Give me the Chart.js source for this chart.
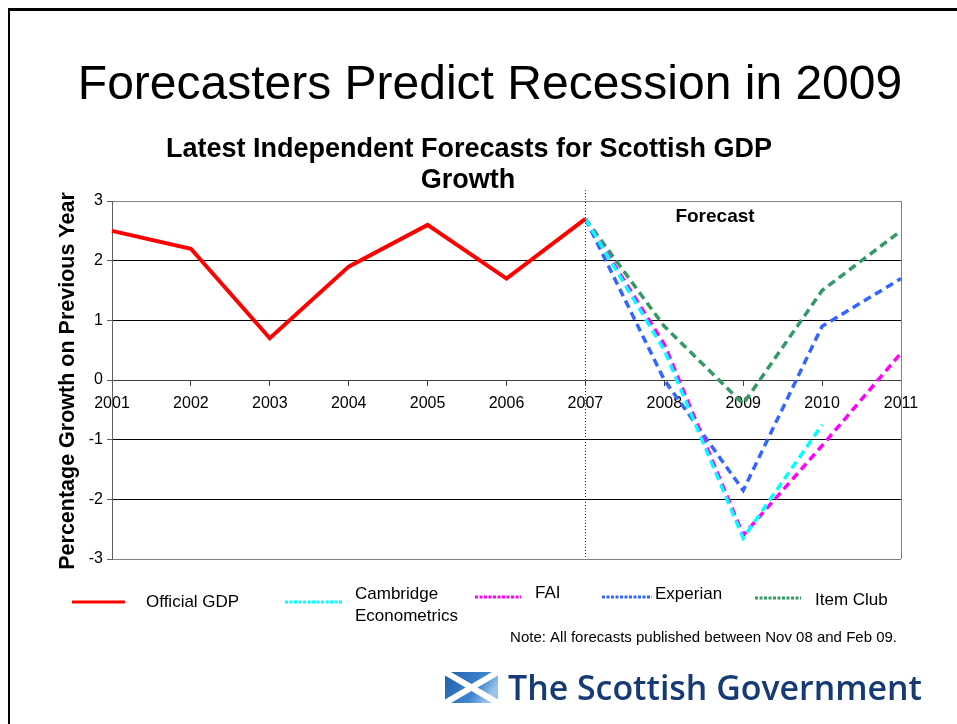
<!DOCTYPE html>
<html>
<head>
<meta charset="utf-8">
<title>Forecasters Predict Recession in 2009</title>
<script src="https://cdn.jsdelivr.net/npm/chart.js@4.4.1/dist/chart.umd.min.js"></script>
<style>
    html, body { margin: 0; padding: 0; background: #fff; }
    #slide { position: relative; width: 957px; height: 724px; overflow: hidden; }
    #frame { position: absolute; left: 8px; top: 8px; width: 980px; height: 740px;
             border-left: 2px solid #000; border-top: 3px solid #000; }
    #gdpChart { position: absolute; left: 0; top: 0; }
    #logo { position: absolute; left: 440px; top: 665px; }
</style>
</head>
<body>
<div id="slide">
    <div id="frame"></div>
    <canvas id="gdpChart" width="957" height="724"></canvas>
    <svg id="logo" width="500" height="50" viewBox="0 0 500 50">
        <defs>
            <linearGradient id="flagBlue" x1="0" y1="0" x2="1" y2="0.4">
                <stop offset="0" stop-color="#1d5dab"/>
                <stop offset="0.7" stop-color="#3f85cf"/>
                <stop offset="1" stop-color="#9cc3ea"/>
            </linearGradient>
            <clipPath id="flagClip"><rect x="5" y="7" width="53" height="31"/></clipPath>
        </defs>
        <rect x="5" y="7" width="53" height="31" fill="url(#flagBlue)"/>
        <g clip-path="url(#flagClip)" stroke="#fff" stroke-width="6">
            <line x1="5" y1="7" x2="58" y2="38"/>
            <line x1="5" y1="38" x2="58" y2="7"/>
        </g>
        <text x="68" y="35" font-family="'Open Sans', 'DejaVu Sans', sans-serif" font-weight="600"
              font-size="35" fill="#163a74" textLength="414" lengthAdjust="spacingAndGlyphs">The Scottish Government</text>
    </svg>
</div>

<script>
// Scottish GDP growth, % on previous year
const years = ['2001', '2002', '2003', '2004', '2005', '2006', '2007', '2008', '2009', '2010', '2011'];
const officialGdp = [2.5, 2.2, 0.7, 1.9, 2.6, 1.7, 2.7, null, null, null, null];
const cambridgeEconometrics = [null, null, null, null, null, null, 2.7, 0.5, -2.65, -0.75, null];
const faiForecast = [null, null, null, null, null, null, 2.7, 0.6, -2.6, -1.1, 0.45];
const experianForecast = [null, null, null, null, null, null, 2.7, 0.0, -1.85, 0.9, 1.7];
const itemClubForecast = [null, null, null, null, null, null, 2.7, 0.9, -0.4, 1.5, 2.5];
const yMin = -3;
const yMax = 3;
const forecastStart = '2007';

const FONT = "'Liberation Sans', Arial, sans-serif";

// where each legend entry sits under the plot
const legendSlots = [
    { x1: 72, x2: 125, y: 602, tx: 146, ty: 602 },
    { x1: 285, x2: 343, y: 602, tx: 355, ty: 594 },
    { x1: 475, x2: 521, y: 597, tx: 535, ty: 593 },
    { x1: 602, x2: 652, y: 597, tx: 655, ty: 594 },
    { x1: 755, x2: 801, y: 598, tx: 815, ty: 600 }
];

function wrapLabel(ctx, text, maxWidth) {
    const words = text.split(' ');
    const lines = [];
    let line = '';
    words.forEach(w => {
        const test = line ? line + ' ' + w : w;
        if (line && ctx.measureText(test).width > maxWidth) {
            lines.push(line);
            line = w;
        } else {
            line = test;
        }
    });
    lines.push(line);
    return lines;
}

const slideDecor = {
    id: 'slideDecor',
    beforeDatasetsDraw(chart) {
        const ctx = chart.ctx;
        const area = chart.chartArea;
        const x = chart.scales.x;
        ctx.save();
        // right edge of plot
        ctx.strokeStyle = '#808080';
        ctx.lineWidth = 1;
        ctx.beginPath();
        ctx.moveTo(area.right + 0.5, area.top);
        ctx.lineTo(area.right + 0.5, area.bottom);
        ctx.stroke();
        // forecast divider
        const fx = Math.round(x.getPixelForValue(years.indexOf(forecastStart))) + 0.5;
        ctx.strokeStyle = '#333';
        ctx.setLineDash([1, 2]);
        ctx.beginPath();
        ctx.moveTo(fx, area.top - 11);
        ctx.lineTo(fx, area.bottom);
        ctx.stroke();
        ctx.restore();
    },
    afterDraw(chart) {
        const ctx = chart.ctx;
        ctx.save();
        ctx.fillStyle = '#000';
        ctx.textAlign = 'center';
        ctx.textBaseline = 'alphabetic';

        ctx.font = '48px ' + FONT;
        ctx.fillText('Forecasters Predict Recession in 2009', 490, 99);

        ctx.font = 'bold 27px ' + FONT;
        ctx.fillText('Latest Independent Forecasts for Scottish GDP', 469, 157);
        ctx.fillText('Growth', 468, 188);

        ctx.font = 'bold 19px ' + FONT;
        ctx.fillText('Forecast', 715, 222);

        ctx.save();
        ctx.translate(74, 381);
        ctx.rotate(-Math.PI / 2);
        ctx.font = 'bold 21.5px ' + FONT;
        ctx.fillText('Percentage Growth on Previous Year', 0, 0);
        ctx.restore();

        // legend
        ctx.font = '17px ' + FONT;
        ctx.textAlign = 'left';
        ctx.textBaseline = 'middle';
        chart.data.datasets.forEach((ds, i) => {
            const s = legendSlots[i];
            ctx.strokeStyle = ds.borderColor;
            ctx.lineWidth = 3;
            ctx.setLineDash(ds.borderDash ? [3, 1.5] : []);
            ctx.beginPath();
            ctx.moveTo(s.x1, s.y);
            ctx.lineTo(s.x2, s.y);
            ctx.stroke();
            const lines = wrapLabel(ctx, ds.label, 120);
            lines.forEach((ln, k) => ctx.fillText(ln, s.tx, s.ty + k * 22));
        });
        ctx.setLineDash([]);

        ctx.font = '15px ' + FONT;
        ctx.textAlign = 'right';
        ctx.fillText('Note: All forecasts published between Nov 08 and Feb 09.', 897, 638);
        ctx.restore();
    }
};

function forecastLine(label, data, color) {
    return {
        label: label,
        data: data,
        borderColor: color,
        borderWidth: 3.5,
        borderDash: [8, 5],
        borderCapStyle: 'butt',
        pointRadius: 0,
        tension: 0,
        fill: false
    };
}

new Chart(document.getElementById('gdpChart'), {
    type: 'line',
    data: {
        labels: years,
        datasets: [
            {
                label: 'Official GDP',
                data: officialGdp,
                borderColor: '#ff0000',
                borderWidth: 4,
                pointRadius: 0,
                tension: 0,
                fill: false
            },
            forecastLine('Cambridge Econometrics', cambridgeEconometrics, '#00ffff'),
            forecastLine('FAI', faiForecast, '#ff00ff'),
            forecastLine('Experian', experianForecast, '#3366ff'),
            forecastLine('Item Club', itemClubForecast, '#339966')
        ]
    },
    options: {
        responsive: false,
        animation: false,
        layout: { padding: { left: 62, right: 56, top: 201, bottom: 165 } },
        plugins: {
            legend: { display: false },
            tooltip: { enabled: false }
        },
        scales: {
            x: {
                type: 'category',
                position: { y: 0 },
                offset: false,
                grid: { drawOnChartArea: false, drawTicks: true, tickLength: 5, color: '#404040' },
                border: { display: true, color: '#404040' },
                ticks: {
                    autoSkip: false,
                    maxRotation: 0,
                    padding: 9,
                    color: '#000',
                    font: { family: FONT, size: 16 }
                }
            },
            y: {
                min: yMin,
                max: yMax,
                afterFit(scale) { scale.width = 50; },
                grid: {
                    color: c => (c.tick && Math.abs(c.tick.value) === 3) ? '#808080' : '#000',
                    tickColor: '#606060',
                    tickLength: 5
                },
                border: { color: '#606060' },
                ticks: {
                    stepSize: 1,
                    padding: 4,
                    color: '#000',
                    font: { family: FONT, size: 16 }
                }
            }
        }
    },
    plugins: [slideDecor]
});
</script>
</body>
</html>
